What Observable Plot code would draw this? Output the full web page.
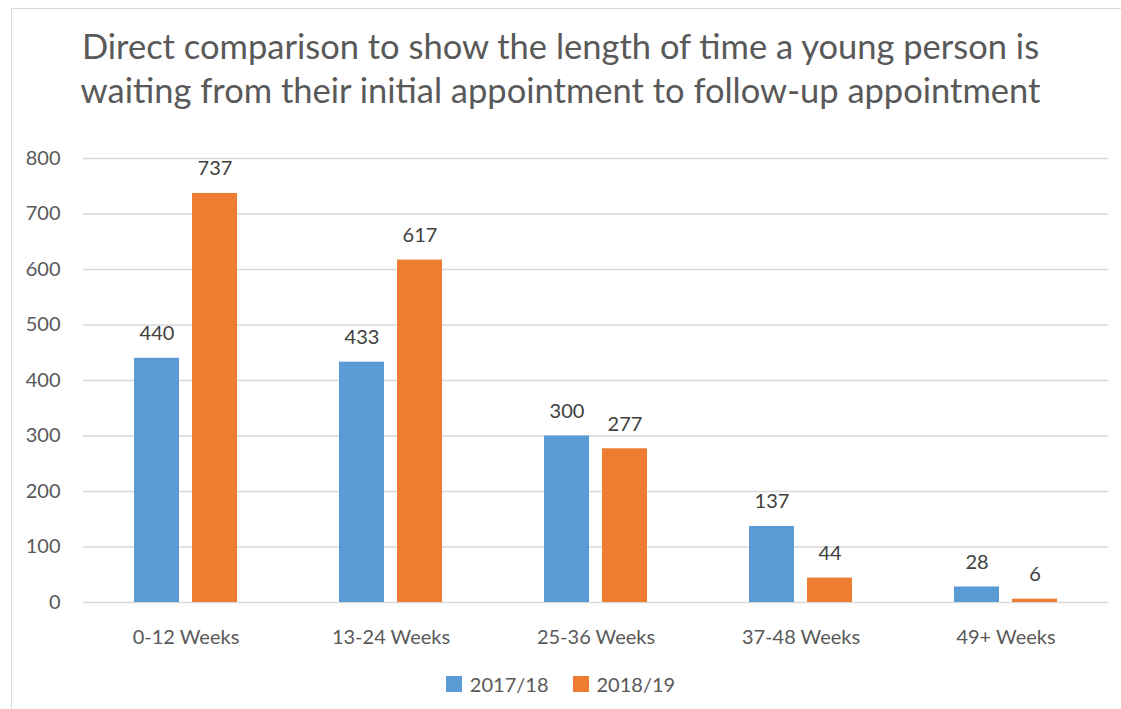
<!DOCTYPE html>
<html>
<head>
<meta charset="utf-8">
<script src="https://cdn.jsdelivr.net/npm/d3@7"></script>
<script src="https://cdn.jsdelivr.net/npm/@observablehq/plot@0.6"></script>
<style>
  html, body { margin: 0; padding: 0; background: #fff; width: 1121px; height: 709px; overflow: hidden; }
  #frame { position: absolute; left: 11px; top: 8px; width: 1110px; height: 701px; border-left: 1px solid #d9d9d9; border-top: 1px solid #d9d9d9; box-sizing: border-box; }
  #title { position: absolute; left: 0; top: 24px; width: 1121px; text-align: center; font-family: Lato, sans-serif; font-size: 34.5px; line-height: 44px; color: #595959; }
  #chart { position: absolute; left: 0; top: 140px; }
  #legend { position: absolute; left: 0; top: 672px; width: 1121px; display: flex; justify-content: center; gap: 24px; font-family: Lato, sans-serif; font-size: 20px; color: #595959; }
  .item { display: flex; align-items: center; gap: 8px; }
  .sw { width: 16px; height: 16px; display: inline-block; }
</style>
</head>
<body>
<div id="frame"></div>
<div id="title">Direct comparison to show the length of time a young person is<br>waiting from their initial appointment to follow-up appointment</div>
<div id="chart"></div>
<div id="legend"></div>
<script>
const categories = ["0-12 Weeks", "13-24 Weeks", "25-36 Weeks", "37-48 Weeks", "49+ Weeks"];
const years = ["2017/18", "2018/19"];
const values2017 = [440, 433, 300, 137, 28];
const values2018 = [737, 617, 277, 44, 6];
const colors = ["#5B9BD5", "#ED7D31"];
const yTicks = [0, 100, 200, 300, 400, 500, 600, 700, 800];

const data = [];
categories.forEach((c, i) => {
  data.push({cat: c, year: years[0], value: values2017[i]});
  data.push({cat: c, year: years[1], value: values2018[i]});
});

const chart = Plot.plot({
  width: 1121,
  height: 520,
  marginLeft: 83,
  marginRight: 13,
  marginTop: 18,
  marginBottom: 58,
  style: {fontFamily: "Lato, sans-serif", fontSize: "20px", color: "#595959", background: "transparent"},
  fx: {domain: categories, padding: 0, label: null},
  x: {domain: years, paddingInner: 0.22, paddingOuter: 0.85, axis: null},
  y: {domain: [0, 800], label: null},
  color: {domain: years, range: colors},
  marks: [
    Plot.ruleY(yTicks, {stroke: "#d9d9d9", strokeWidth: 1.3}),
    Plot.axisY(yTicks, {tickSize: 0, tickPadding: 23, label: null, fill: "#595959", fontSize: 20}),
    Plot.axisFx({anchor: "bottom", tickSize: 0, tickPadding: 27, label: null, fill: "#595959", fontSize: 20}),
    Plot.barY(data, {fx: "cat", x: "year", y: "value", fill: "year"}),
    Plot.text(data, {fx: "cat", x: "year", y: "value", text: d => String(d.value), lineAnchor: "bottom", dy: -18, fill: "#404040", fontSize: 20})
  ]
});
document.getElementById("chart").appendChild(chart);

const legend = document.getElementById("legend");
years.forEach((y, i) => {
  const item = document.createElement("div");
  item.className = "item";
  const sw = document.createElement("span");
  sw.className = "sw";
  sw.style.background = colors[i];
  const t = document.createElement("span");
  t.textContent = y;
  item.appendChild(sw);
  item.appendChild(t);
  legend.appendChild(item);
});
</script>
</body>
</html>
